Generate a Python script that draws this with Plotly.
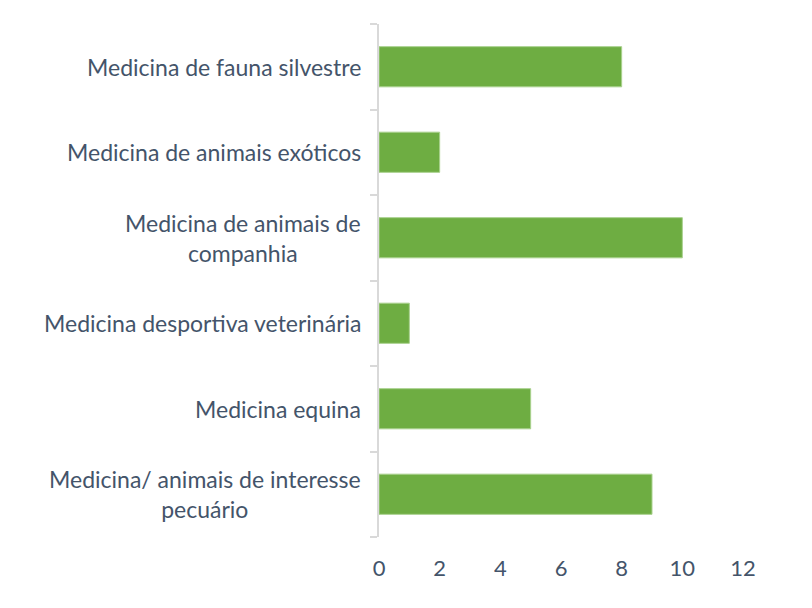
import plotly.graph_objects as go

categories = [
    "Medicina/ animais de interesse<br>pecuário",
    "Medicina equina",
    "Medicina desportiva veterinária",
    "Medicina de animais de<br>companhia",
    "Medicina de animais exóticos",
    "Medicina de fauna silvestre",
]
values = [9, 5, 1, 10, 2, 8]
x_ticks = [0, 2, 4, 6, 8, 10, 12]

FONT = "Lato"
TEXT_COLOR = "#44546A"

fig = go.Figure()
fig.add_trace(go.Bar(
    y=list(range(len(categories))),
    x=values,
    orientation="h",
    marker=dict(color="#6EAD42", line=dict(color="#A9D18E", width=1)),
    width=0.47,
    hoverinfo="skip",
))

for i, c in enumerate(categories):
    fig.add_annotation(
        x=0, xref="paper", y=i, yref="y",
        text=c, showarrow=False, xanchor="right", yanchor="middle",
        align="center", xshift=-16,
        font=dict(family=FONT, size=23, color=TEXT_COLOR),
    )

fig.update_layout(
    width=812, height=608,
    margin=dict(l=371, r=77, t=16, b=79),
    paper_bgcolor="white", plot_bgcolor="white",
    showlegend=False,
    font=dict(family=FONT, size=22, color=TEXT_COLOR),
)
fig.update_xaxes(
    range=[0, 12], tickvals=x_ticks, showgrid=False, zeroline=False,
    showline=False, ticks="", ticklabelstandoff=16,
    tickfont=dict(family=FONT, size=22, color=TEXT_COLOR),
)
fig.update_yaxes(
    range=[-0.5, len(categories) - 0.5],
    tickvals=[i - 0.5 for i in range(len(categories) + 1)],
    ticktext=[""] * (len(categories) + 1),
    showgrid=False, zeroline=False,
    showline=True, linecolor="#D9D9D9", linewidth=2,
    ticks="outside", ticklen=7, tickcolor="#D9D9D9", tickwidth=2,
)

fig.write_html("out.html")
